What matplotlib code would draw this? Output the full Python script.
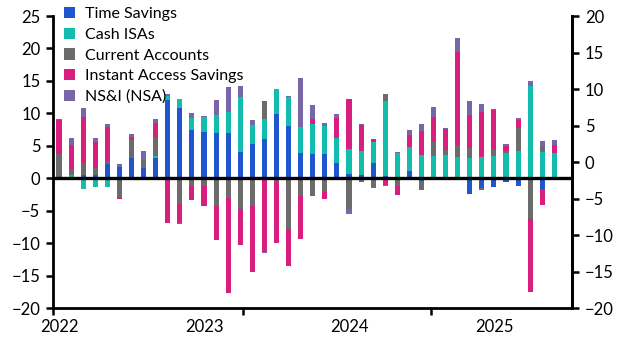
import numpy as np
import matplotlib
matplotlib.use("Agg")
import matplotlib.pyplot as plt

# meses ene-2022 .. jun-2025
months = [f"{y}-{m:02d}" for y in range(2022, 2026) for m in range(1, 13)][:42]

time_savings = [0, 0, 0.5, 0.6, 2.2, 1.7, 3.2, 1.6, 3.1, 12.05, 10.9, 7.4,
                7.1, 7.0, 7.0, 4.05, 5.3, 6.05, 9.95, 8.1, 3.9, 3.7, 3.7, 2.4,
                0.7, 0.5, 2.35, 0.35, -0.2, 1.1, -0.35, -0.3, 0, 0, -2.4, -1.5,
                -1.3, -0.55, -1.2, 0, -1.65, 0]
cash_isas = [-0.3, 0.5, -1.7, -1.3, -1.3, -0.3, -0.3, -0.3, 0.4, 0.7, 1.4, 1.9,
             2.3, 2.7, 3.2, 8.5, 2.9, 3.1, 3.8, 4.4, 4.0, 4.6, 4.4, 3.8,
             3.8, 3.7, 3.2, 11.5, 3.9, 3.7, 3.6, 3.4, 3.6, 3.3, 3.1, 3.3,
             3.4, 3.9, 4.2, 14.2, 4.05, 3.85]
current_accounts = [3.7, 0.9, 1.8, 1.0, 0.5, -2.6, 2.7, 1.3, 2.9, 0, -3.9, -1.1,
                    -1.2, -4.2, -3.0, -4.7, -4.3, 2.8, -0.5, -7.8, -2.7, -2.7, -2.1, 0,
                    -4.7, -0.55, -1.3, 1.2, -0.9, 0, -1.5, 2.15, 0.8, 1.8, 1.6, -0.3,
                    1.1, 0.3, 3.5, -6.25, 0.9, -0.3]
instant_access = [5.3, 3.7, 7.1, 4.0, 5.2, -0.3, 0.5, 0, 2.1, -6.8, -3.0, -2.2,
                  -3.1, -5.3, -14.6, -5.6, -10.1, -11.3, -9.4, -5.7, -6.7, 0.8, -1.0, 3.1,
                  7.8, 4.0, 0.45, -1.0, -1.4, 1.9, 3.7, 3.85, 3.2, 14.4, 5.0, 6.9,
                  6.0, 0.75, 1.35, -11.3, -2.45, 1.25]
nsi = [0.2, 1.1, 1.4, 0.6, 0.4, 0.5, 0.5, 1.3, 0.7, 0.25, -0.1, 0.7,
       0.2, 2.3, 3.9, 1.7, 0.8, -0.2, -0.1, 0.15, 7.5, 2.15, 0.4, 0.6,
       -0.8, 0.15, -0.15, -0.15, 0.15, 0.8, 1.1, 1.55, 0.15, 2.15, 2.15, 1.2,
       0.15, 0.3, 0.2, 0.75, 0.75, 0.75]

series = [
    ("Time Savings", time_savings, "#1f56d0"),
    ("Cash ISAs", cash_isas, "#12bdad"),
    ("Current Accounts", current_accounts, "#6b6b6b"),
    ("Instant Access Savings", instant_access, "#d81f80"),
    ("NS&I (NSA)", nsi, "#7866a8"),
]

year_labels = ["2022", "2023", "2024", "2025"]

plt.rcParams['font.family'] = ['Lato', 'DejaVu Sans']

fig = plt.figure(figsize=(6.3, 3.55), dpi=100)
ax = fig.add_axes([0.0841, 0.1315, 0.8246, 0.8234])

x = np.arange(len(months))
pos_base = np.zeros(len(months))
neg_base = np.zeros(len(months))
for name, vals, color in series:
    v = np.array(vals, dtype=float)
    pos = np.where(v > 0, v, 0)
    neg = np.where(v < 0, v, 0)
    ax.bar(x, pos, width=0.42, bottom=pos_base, color=color, label=name, zorder=2)
    ax.bar(x, neg, width=0.42, bottom=neg_base, color=color, zorder=2)
    pos_base += pos
    neg_base += neg

ax.axhline(0, color="black", lw=2.4, zorder=3)

ax.set_xlim(-0.5, 42.5)
ax.set_ylim(-20, 25)
ax.set_yticks(range(-20, 26, 5))

# etiquetas de año en enero, marcas pequeñas aparte
ax.set_xticks([months.index(f"{y}-01") for y in year_labels])
ax.set_xticklabels(year_labels)
ax.set_xticks([-0.5, 15.2, 30.8], minor=True)
ax.tick_params(axis="x", which="major", length=0, pad=8, labelsize=12)
ax.tick_params(axis="x", which="minor", length=5, width=1.8, direction="out")
ax.tick_params(axis="y", length=5, width=1.8, direction="out", labelsize=12, pad=4)

for s in ["left", "bottom", "right"]:
    ax.spines[s].set_linewidth(2)
ax.spines["top"].set_visible(False)

ax2 = ax.twinx()
ax2.set_ylim(-20, 20)
ax2.set_yticks(range(-20, 21, 5))
ax2.tick_params(axis="y", length=5, width=1.8, direction="out", labelsize=12, pad=4)
for s in ["top", "left", "bottom"]:
    ax2.spines[s].set_visible(False)
ax2.spines["right"].set_linewidth(2)

leg = ax.legend(loc="upper left", bbox_to_anchor=(0.0, 1.068), frameon=False,
                fontsize=11.5, handlelength=0.7, handleheight=0.7,
                handletextpad=0.6, labelspacing=0.4, borderaxespad=0.3)

fig.savefig("out.png", dpi=100)
